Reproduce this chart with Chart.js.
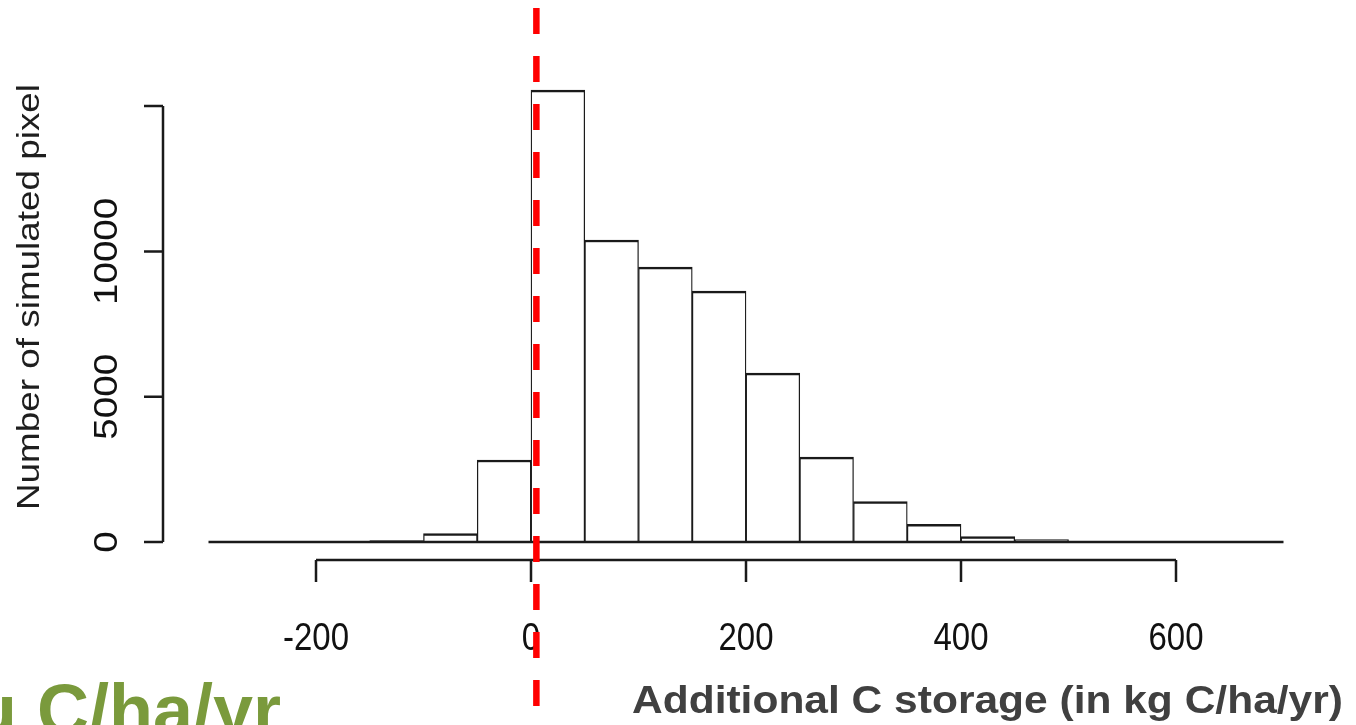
<!DOCTYPE html>
<html>
<head>
<meta charset="utf-8">
<script src="https://cdn.jsdelivr.net/npm/chart.js@4/dist/chart.umd.min.js"></script>
<style>
  html, body { margin: 0; padding: 0; background: #ffffff; }
  #wrap { width: 1356px; height: 725px; position: relative; overflow: hidden; }
  canvas { display: block; }
</style>
</head>
<body>
<div id="wrap"><canvas id="c" width="1356" height="725"></canvas></div>
<script>
// ---- Data ----
const binStarts = [-300, -250, -200, -150, -100, -50, 0, 50, 100, 150, 200, 250, 300, 350, 400, 450, 500, 550, 600, 650];
const binWidth = 50;
const pixelCounts = [0, 0, 0, 50, 290, 2820, 15550, 10390, 9460, 8630, 5810, 2920, 1390, 610, 185, 80, 20, 8, 0, 0];
const xTickValues = [-200, 0, 200, 400, 600];
const xTickLabels = ['-200', '0', '200', '400', '600'];
const yTickValues = [0, 5000, 10000, 15000];
const yTickLabels = ['0', '5000', '10000', ''];
const markerValues = [5];
const xTitle = 'Additional C storage (in kg C/ha/yr)';
const yTitle = 'Number of simulated pixel';
const cornerText = 'u C/ha/yr';

const barData = binStarts.map((s, i) => ({ x: s + binWidth / 2, y: pixelCounts[i] }));
const baselineData = [
  { x: binStarts[0], y: 0 },
  { x: binStarts[binStarts.length - 1] + binWidth, y: 0 }
];

const VSTRETCH = 1.17;

const rAxesPlugin = {
  id: 'rAxes',
  afterDraw(chart) {
    const ctx = chart.ctx;
    const xs = chart.scales.x, ys = chart.scales.y;
    const area = chart.chartArea;
    const axisX = area.left - 45.5;   // detached y axis
    const axisY = area.bottom + 18;   // detached x axis
    ctx.save();
    ctx.strokeStyle = '#1a1a1a';
    ctx.fillStyle = '#111111';
    ctx.lineWidth = 2.5;
    ctx.setLineDash([]);

    // y axis
    const yTop = ys.getPixelForValue(yTickValues[yTickValues.length - 1]);
    const yBot = ys.getPixelForValue(yTickValues[0]);
    ctx.beginPath();
    ctx.moveTo(axisX, yTop); ctx.lineTo(axisX, yBot);
    yTickValues.forEach(v => {
      const p = ys.getPixelForValue(v);
      ctx.moveTo(axisX, p); ctx.lineTo(axisX - 19, p);
    });
    ctx.stroke();
    ctx.font = '33px "Liberation Sans", Arial, sans-serif';
    ctx.textAlign = 'center';
    ctx.textBaseline = 'alphabetic';
    yTickValues.forEach((v, i) => {
      const p = ys.getPixelForValue(v);
      ctx.save();
      ctx.translate(axisX - 46, p);
      ctx.rotate(-Math.PI / 2);
      ctx.scale(VSTRETCH, 1);
      ctx.fillText(yTickLabels[i], 0, 0);
      ctx.restore();
    });

    // x axis
    const xL = xs.getPixelForValue(xTickValues[0]);
    const xR = xs.getPixelForValue(xTickValues[xTickValues.length - 1]);
    ctx.beginPath();
    ctx.moveTo(xL, axisY); ctx.lineTo(xR, axisY);
    xTickValues.forEach(v => {
      const p = xs.getPixelForValue(v);
      ctx.moveTo(p, axisY); ctx.lineTo(p, axisY + 22);
    });
    ctx.stroke();
    xTickValues.forEach((v, i) => {
      const p = xs.getPixelForValue(v);
      ctx.save();
      ctx.translate(p, axisY + 90);
      ctx.scale(1, VSTRETCH);
      ctx.fillText(xTickLabels[i], 0, 0);
      ctx.restore();
    });

    // y title
    ctx.save();
    ctx.fillStyle = '#1e1e1e';
    ctx.font = '31.5px "Liberation Sans", Arial, sans-serif';
    ctx.translate(39, 297);
    ctx.rotate(-Math.PI / 2);
    ctx.scale(VSTRETCH, 1);
    ctx.textAlign = 'center';
    ctx.fillText(yTitle, 0, 0);
    ctx.restore();

    // x title
    ctx.save();
    ctx.fillStyle = '#404040';
    ctx.font = 'bold 39px "Liberation Sans", Arial, sans-serif';
    ctx.textAlign = 'left';
    ctx.translate(632, 713);
    ctx.scale(1.09, 1);
    ctx.fillText(xTitle, 0, 0);
    ctx.restore();

    // corner green text (cut off)
    ctx.save();
    ctx.fillStyle = '#7a9a3c';
    ctx.font = 'bold 72px "Liberation Sans", Arial, sans-serif';
    ctx.textAlign = 'left';
    ctx.fillText(cornerText, -27, 735);
    ctx.restore();

    // red dashed marker line
    markerValues.forEach(v => {
      const p = xs.getPixelForValue(v);
      ctx.save();
      ctx.strokeStyle = '#ff0000';
      ctx.lineWidth = 6.5;
      ctx.lineCap = 'butt';
      ctx.setLineDash([26, 22]);
      ctx.beginPath();
      ctx.moveTo(p, 8);
      ctx.lineTo(p, 712);
      ctx.stroke();
      ctx.restore();
    });
    ctx.restore();
  }
};

new Chart(document.getElementById('c').getContext('2d'), {
  type: 'bar',
  data: {
    datasets: [
      {
        type: 'line',
        data: baselineData,
        borderColor: '#1a1a1a',
        borderWidth: 2.5,
        pointRadius: 0,
        fill: false,
        clip: false,
        order: 0
      },
      {
        type: 'bar',
        data: barData,
        backgroundColor: '#ffffff',
        borderColor: '#1a1a1a',
        borderWidth: { top: 2.5, left: 1.3, right: 1.3, bottom: 0 },
        borderSkipped: false,
        barPercentage: 1,
        categoryPercentage: 1,
        order: 1
      }
    ]
  },
  options: {
    responsive: false,
    animation: false,
    devicePixelRatio: 1,
    layout: { padding: { left: 208.5, right: 72.5, top: 77, bottom: 183 } },
    plugins: { legend: { display: false }, tooltip: { enabled: false }, title: { display: false } },
    scales: {
      x: { type: 'linear', min: -300, max: 700, offset: false, display: false },
      y: { min: 0, max: 16000, display: false }
    }
  },
  plugins: [rAxesPlugin]
});
</script>
</body>
</html>
